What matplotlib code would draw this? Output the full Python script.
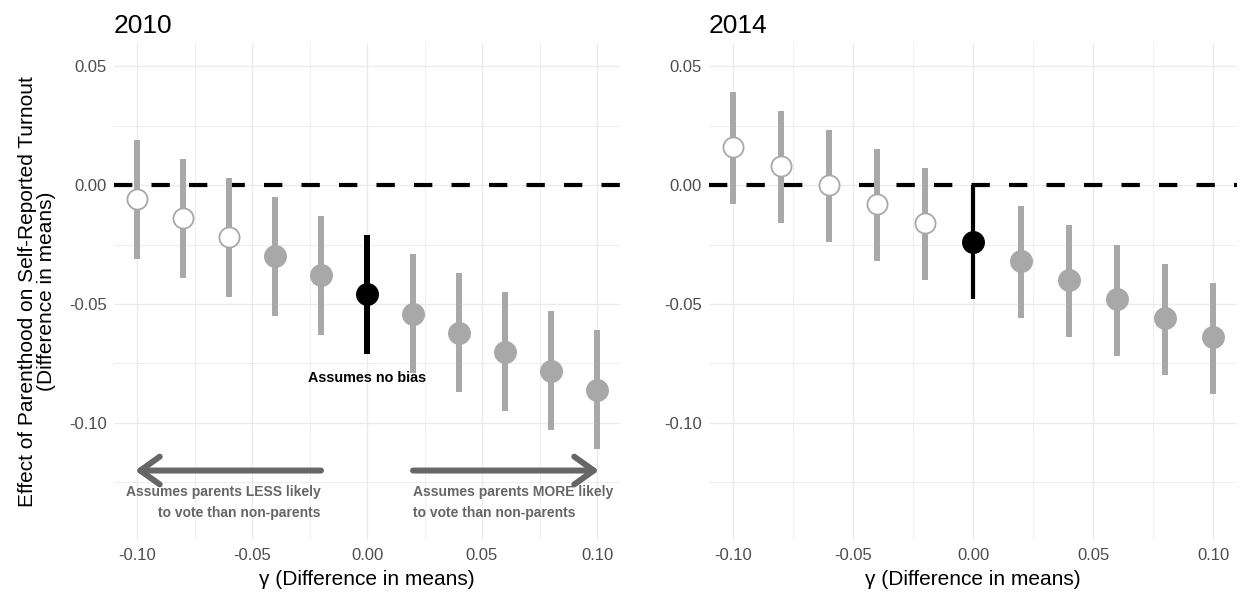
import matplotlib.pyplot as plt
import numpy as np
from matplotlib.ticker import MultipleLocator

plt.rcParams['font.family'] = ['Liberation Sans', 'DejaVu Sans']

gamma = [-0.10, -0.08, -0.06, -0.04, -0.02, 0.00, 0.02, 0.04, 0.06, 0.08, 0.10]

est_2010 = [-0.006, -0.014, -0.022, -0.030, -0.038, -0.046, -0.054, -0.062, -0.070, -0.078, -0.086]
lo_2010 = [-0.031, -0.039, -0.047, -0.055, -0.063, -0.071, -0.079, -0.087, -0.095, -0.103, -0.111]
hi_2010 = [0.019, 0.011, 0.003, -0.005, -0.013, -0.021, -0.029, -0.037, -0.045, -0.053, -0.061]
# 'o' = hollow (ci covers zero), 'f' = filled grey, 'b' = no-bias estimate
kind_2010 = ['o', 'o', 'o', 'f', 'f', 'b', 'f', 'f', 'f', 'f', 'f']

est_2014 = [0.016, 0.008, 0.000, -0.008, -0.016, -0.024, -0.032, -0.040, -0.048, -0.056, -0.064]
lo_2014 = [-0.008, -0.016, -0.024, -0.032, -0.040, -0.048, -0.056, -0.064, -0.072, -0.080, -0.088]
hi_2014 = [0.039, 0.031, 0.023, 0.015, 0.007, 0.000, -0.009, -0.017, -0.025, -0.033, -0.041]
kind_2014 = ['o', 'o', 'o', 'o', 'o', 'b', 'f', 'f', 'f', 'f', 'f']

GREY = '#A8A8A8'
ARROW = '#666666'

fig = plt.figure(figsize=(12.42, 5.92), dpi=100)
ax1 = fig.add_axes([114/1242, 1-540/592, 506/1242, 497/592])
ax2 = fig.add_axes([709/1242, 1-540/592, 528/1242, 497/592])


def panel(ax, est, lo, hi, kind, title, black_lw):
    ax.set_xlim(-0.11, 0.11)
    ax.set_ylim(-0.1492, 0.0597)
    for s in ax.spines.values():
        s.set_visible(False)
    ax.xaxis.set_major_locator(MultipleLocator(0.05))
    ax.xaxis.set_minor_locator(MultipleLocator(0.025))
    ax.yaxis.set_major_locator(MultipleLocator(0.05))
    ax.yaxis.set_minor_locator(MultipleLocator(0.025))
    ax.grid(which='major', color='#EBEBEB', lw=1.0)
    ax.grid(which='minor', color='#EBEBEB', lw=0.6)
    ax.set_axisbelow(True)
    ax.tick_params(which='both', length=0, labelsize=12, labelcolor='#4D4D4D')
    ax.tick_params(axis='x', pad=6)
    ax.tick_params(axis='y', pad=5)
    ax.xaxis.set_major_formatter(plt.FuncFormatter(lambda v, p: f'{v:.2f}'))
    ax.yaxis.set_major_formatter(plt.FuncFormatter(lambda v, p: f'{v:.2f}'))
    ax.axhline(0, color='black', lw=3, linestyle=(0, (4.4, 4.6)), zorder=1.5)
    for g, e, l, h, k in zip(gamma, est, lo, hi, kind):
        if k == 'b':
            ax.plot([g, g], [l, h], color='black', lw=black_lw, solid_capstyle='butt', zorder=2)
            ax.plot(g, e, 'o', ms=15.5, color='black', zorder=3)
        else:
            ax.plot([g, g], [l, h], color=GREY, lw=4.3, solid_capstyle='butt', zorder=2)
            if k == 'o':
                ax.plot(g, e, 'o', ms=14.5, mfc='white', mec=GREY, mew=1.3, zorder=3)
            else:
                ax.plot(g, e, 'o', ms=15.5, color=GREY, zorder=3)
    ax.set_title(title, loc='left', fontsize=19, pad=7)
    ax.set_xlabel('\u03b3 (Difference in means)', fontsize=15, labelpad=5)


panel(ax1, est_2010, lo_2010, hi_2010, kind_2010, '2010', 4.3)
panel(ax2, est_2014, lo_2014, hi_2014, kind_2014, '2014', 3.0)

ax1.set_ylabel('Effect of Parenthood on Self-Reported Turnout\n(Difference in means)',
               fontsize=15, linespacing=1.0)
ax1.yaxis.set_label_coords(-0.114, 0.5)

# annotations on the 2010 panel
ax1.text(0, -0.0812, 'Assumes no bias', ha='center', va='center', fontsize=10.4,
         fontweight='bold')
arrow = dict(arrowstyle='->,head_length=0.7,head_width=0.5', lw=4.3, color=ARROW,
             shrinkA=0, shrinkB=0, mutation_scale=20)
ax1.annotate('', xy=(-0.1008, -0.12), xytext=(-0.02, -0.12), arrowprops=arrow)
ax1.annotate('', xy=(0.1008, -0.12), xytext=(0.02, -0.12), arrowprops=arrow)
ax1.text(-0.02, -0.1333, 'Assumes parents LESS likely\nto vote than non-parents',
         ha='right', va='center', fontsize=10, fontweight='bold', color=ARROW,
         linespacing=1.65)
ax1.text(0.02, -0.1333, 'Assumes parents MORE likely\nto vote than non-parents',
         ha='left', va='center', fontsize=10, fontweight='bold', color=ARROW,
         linespacing=1.65)

plt.savefig('out.png', dpi=100)
